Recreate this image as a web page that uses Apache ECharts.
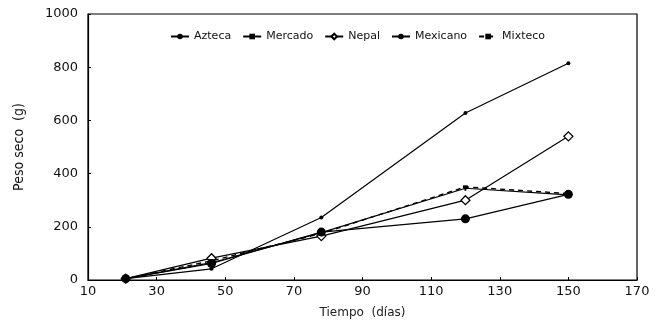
<!DOCTYPE html>
<html>
<head>
<meta charset="utf-8">
<script src="https://cdn.jsdelivr.net/npm/echarts@6/dist/echarts.min.js"></script>
<style>
  html, body { margin: 0; padding: 0; background: #fff; }
  #container { width: 660px; height: 324px; }
</style>
</head>
<body>
<div id="container"></div>
<script>
    var dias = [21, 46, 78, 120, 150];
    var azteca = [5, 42, 235, 628, 815];
    var mercado = [5, 65, 178, 345, 320];
    var nepal = [5, 82, 165, 300, 540];
    var mexicano = [5, 62, 180, 230, 322];
    var mixteco = [5, 72, 175, 350, 325];
    var xTicks = [10, 30, 50, 70, 90, 110, 130, 150, 170];
    var yTicks = [0, 200, 400, 600, 800, 1000];

    function pares(vals) {
        return dias.map(function (d, i) { return [d, vals[i]]; });
    }

    var dom = document.getElementById("container");
    var myChart = echarts.init(dom);
    var fuente = 'DejaVu Sans';

    var option = {
        animation: false,
        backgroundColor: '#fff',
        grid: { left: 88, right: 23, top: 14, bottom: 40, show: true, borderColor: '#000', borderWidth: 1.2 },
        legend: {
            top: 26,
            left: 165,
            itemGap: 11,
            itemWidth: 18,
            itemHeight: 7,
            textStyle: { color: '#111', fontFamily: fuente, fontSize: 11 },
            data: ['Azteca', 'Mercado', 'Nepal', 'Mexicano', 'Mixteco']
        },
        xAxis: {
            type: 'value',
            min: xTicks[0],
            max: xTicks[xTicks.length - 1],
            interval: 20,
            name: 'Tiempo  (días)',
            nameLocation: 'middle',
            nameGap: 27,
            nameTextStyle: { color: '#222', fontFamily: fuente, fontSize: 12 },
            axisLine: { lineStyle: { color: '#000', width: 1.2 } },
            axisTick: { inside: true, length: 3, lineStyle: { color: '#000' } },
            axisLabel: { color: '#111', fontFamily: fuente, fontSize: 13, margin: 5 },
            splitLine: { show: false }
        },
        yAxis: {
            type: 'value',
            min: yTicks[0],
            max: yTicks[yTicks.length - 1],
            interval: 200,
            name: 'Peso seco  (g)',
            nameLocation: 'middle',
            nameGap: 62,
            nameTextStyle: { color: '#111', fontFamily: 'Liberation Sans Narrow, DejaVu Sans Condensed, sans-serif', fontSize: 14 },
            axisLine: { lineStyle: { color: '#000', width: 1.2 } },
            axisTick: { inside: true, length: 3, lineStyle: { color: '#000' } },
            axisLabel: { color: '#111', fontFamily: fuente, fontSize: 13, margin: 10,
                formatter: function (v) { return String(v); } },
            splitLine: { show: false }
        },
        series: [
            {
                name: 'Azteca', type: 'line', data: pares(azteca),
                symbol: 'circle', symbolSize: 4,
                itemStyle: { color: '#000' },
                lineStyle: { color: '#000', width: 1.2 }
            },
            {
                name: 'Mercado', type: 'line', data: pares(mercado),
                symbol: 'rect', symbolSize: [2, 5],
                itemStyle: { color: '#000' },
                lineStyle: { color: '#000', width: 1.2 }
            },
            {
                name: 'Nepal', type: 'line', data: pares(nepal),
                symbol: 'diamond', symbolSize: 9,
                itemStyle: { color: '#fff', borderColor: '#000', borderWidth: 1.3 },
                lineStyle: { color: '#000', width: 1.2 }
            },
            {
                name: 'Mexicano', type: 'line', data: pares(mexicano),
                symbol: 'circle', symbolSize: 9,
                itemStyle: { color: '#000' },
                lineStyle: { color: '#000', width: 1.2 }
            },
            {
                name: 'Mixteco', type: 'line', data: pares(mixteco),
                symbol: 'rect', symbolSize: [5, 3],
                itemStyle: { color: '#000' },
                lineStyle: { color: '#000', width: 1.4, type: [5, 4] }
            }
        ]
    };
    myChart.setOption(option, true);
</script>
</body>
</html>
